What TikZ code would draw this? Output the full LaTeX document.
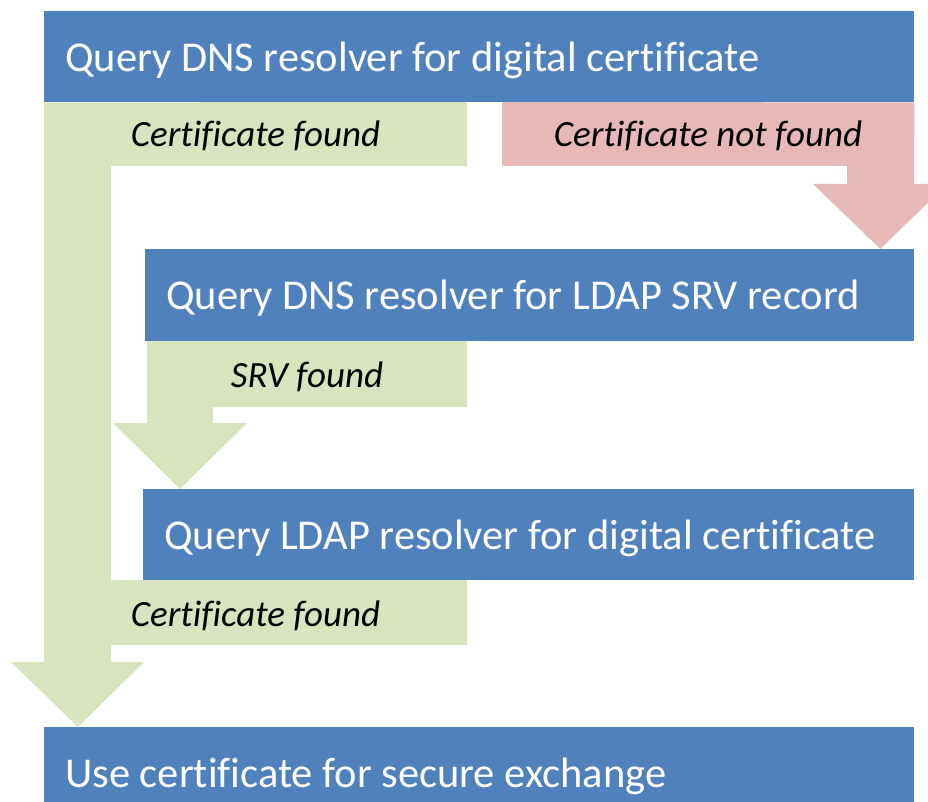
\documentclass[tikz,border=0pt]{standalone}
\usepackage{fontspec}
\setmainfont[Ligatures=NoCommon]{Carlito}
\usetikzlibrary{calc}
\definecolor{boxblue}{HTML}{4F81BD}
\definecolor{yesgreen}{HTML}{D7E4BD}
\definecolor{nored}{HTML}{E6B9B8}
\tikzset{
  stepbox/.style={fill=boxblue, draw=none, anchor=north west, inner xsep=21pt, inner ysep=0pt,
    text=white, font=\fontsize{42.5}{48}\selectfont, text height=38pt, text depth=9pt},
  branchlabel/.style={anchor=base, text=black, inner sep=0pt, font=\fontsize{37}{42}\selectfont\itshape},
}
\begin{document}
\begin{tikzpicture}[x=1pt, y=-1pt]
\useasboundingbox (0,0) rectangle (928,802);
\clip (0,0) rectangle (928,802);

% process steps
\node[stepbox, minimum width=870pt, minimum height=91pt] (q1) at (44,11)
  {\makebox[828pt][l]{Query DNS resolver for digital certificate}};
\node[stepbox, minimum width=769pt, minimum height=92pt] (q2) at (145,249)
  {\makebox[727pt][l]{Query DNS resolver for LDAP SRV record}};
\node[stepbox, minimum width=771pt, minimum height=91pt] (q3) at (143,489)
  {\makebox[729pt][l]{Query LDAP resolver for digital certificate}};
\node[stepbox, minimum width=870pt, minimum height=91pt] (q4) at (44,727)
  {\makebox[828pt][l]{Use certificate for secure exchange}};

% certificate found: first step straight to the last one
\fill[yesgreen] (q1.south west) -- (467,102) -- (467,166) -- (111,166) -- (111,662)
  -- (144,662) -- ($(q4.north west)+(34,0)$) -- (11,662) -- (44,662) -- cycle;
% certificate found after the LDAP lookup
\fill[yesgreen] ($(q3.south west -| q1.south west)$) rectangle (467,645);
% SRV record found
\fill[yesgreen] (147,341) -- (467,341) -- (467,407) -- (213,407) -- (213,423)
  -- (247,423) -- ($(q3.north west)+(37,0)$) -- (113,423) -- (147,423) -- cycle;
% certificate not found
\fill[nored] (502,102) -- (q1.south east) -- (914,184) -- (947,184)
  -- ($(q2.north east)+(-34,0)$) -- (813,184) -- (847,184) -- (847,166) -- (502,166) -- cycle;

% branch labels
\node[branchlabel] (l1) at (255.5,147) {Certificate found};
\node[branchlabel] (l2) at (708,147) {Certificate not found};
\node[branchlabel] (l3) at (307,387) {SRV found};
\node[branchlabel] (l4) at (255.5,626) {Certificate found};
\end{tikzpicture}
\end{document}
